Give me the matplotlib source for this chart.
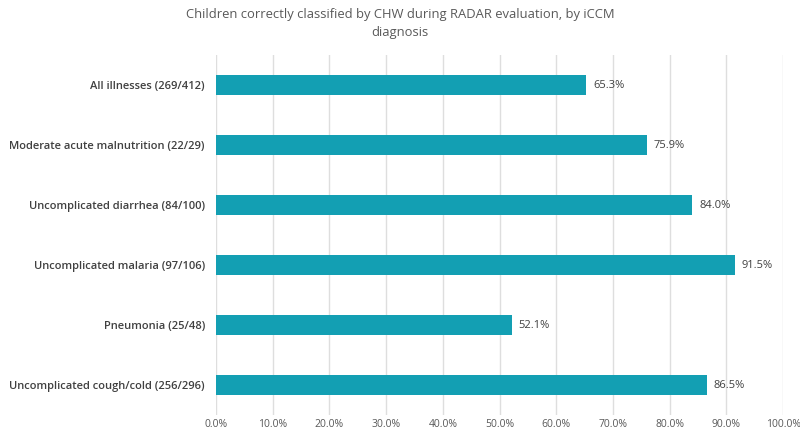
import matplotlib
matplotlib.use('Agg')
import matplotlib.pyplot as plt
import numpy as np

## DATA
categories = ['All illnesses (269/412)', 'Moderate acute malnutrition (22/29)',
              'Uncomplicated diarrhea (84/100)', 'Uncomplicated malaria (97/106)',
              'Pneumonia (25/48)', 'Uncomplicated cough/cold (256/296)']
values = [65.3, 75.9, 84.0, 91.5, 52.1, 86.5]
ticks = [0, 10, 20, 30, 40, 50, 60, 70, 80, 90, 100]
#

plt.rcParams['font.family'] = ['Open Sans', 'DejaVu Sans']

fig = plt.figure(figsize=(8, 4.33), dpi=100)
ax = fig.add_axes([0.27, 0.0416, 0.709, 0.831])

## BARS + VALUE LABELS
y = np.arange(len(categories))
ax.barh(y, values, height=0.34, color='#139fb3', zorder=3)
for yi, v in zip(y, values):
    ax.text(v + 1.2, yi, f'{v:.1f}%', va='center', ha='left', fontsize=8, color='#404040')
#

ax.set_ylim(len(categories) - 0.5, -0.5)
ax.set_yticks(y)
ax.set_yticklabels(categories, fontsize=8, color='#404040', fontweight='semibold')
ax.set_xlim(0, 100)
ax.set_xticks(ticks)
ax.set_xticklabels([f'{t:.1f}%' for t in ticks], fontsize=7.5, color='#595959')
ax.tick_params(axis='x', length=0, pad=3)
ax.tick_params(axis='y', length=0, pad=8)
ax.grid(axis='x', color='#dedede', linewidth=1, zorder=0)
for s in ax.spines.values():
    s.set_visible(False)

fig.suptitle('Children correctly classified by CHW during RADAR evaluation, by iCCM\ndiagnosis',
             x=0.5, y=0.982, va='top', fontsize=9.4, color='#595959', linespacing=1.5)

fig.savefig('out.png', dpi=100)
